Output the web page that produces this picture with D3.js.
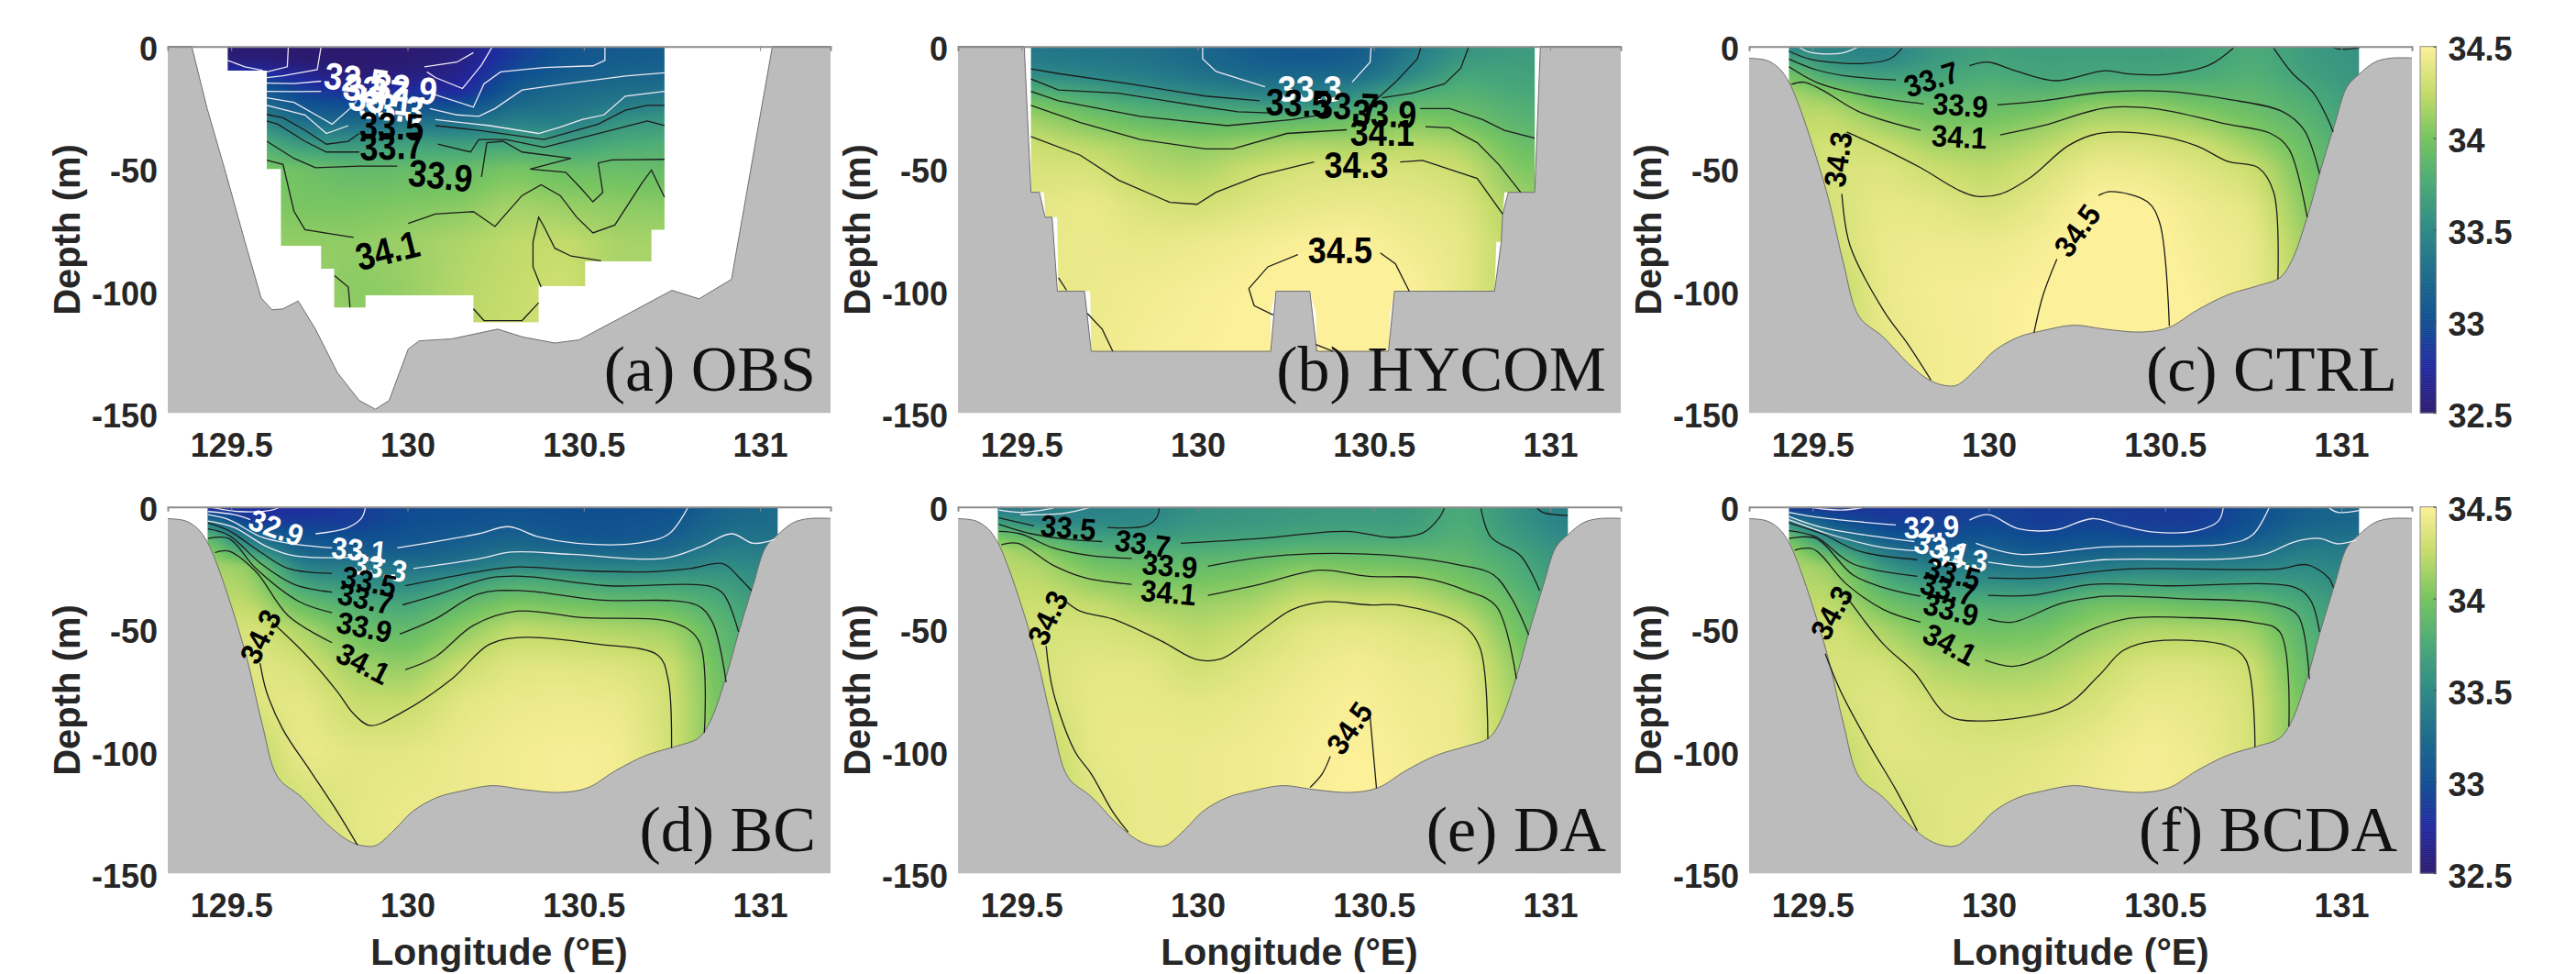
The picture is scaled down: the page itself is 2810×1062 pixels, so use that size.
<!DOCTYPE html>
<html>
<head>
<meta charset="utf-8">
<script src="https://cdn.jsdelivr.net/npm/d3@7"></script>
<style>
  body { margin: 0; background: #fff; }
  svg { display: block; }
</style>
</head>
<body>
<div id="wrapper"></div>
<script>
// salinity: columns are longitude, rows are depth (m)
const gridLons = [129.43, 129.55, 129.7, 129.85, 130, 130.15, 130.3, 130.45, 130.6, 130.75, 130.9, 131.05];
const gridDepths = [0, 6, 12, 18, 24, 30, 40, 50, 65, 80, 100, 125];

const obsField = [
  [32.5, 32.55, 32.9, 33.2, 33.35, 33.55, 33.85, 34.0, 34.05, 34.1, 34.1, 34.1],
  [32.5, 32.58, 32.9, 33.2, 33.35, 33.55, 33.85, 34.02, 34.05, 34.1, 34.1, 34.1],
  [32.5, 32.52, 32.7, 32.9, 33.05, 33.25, 33.6, 33.95, 34.0, 34.08, 34.15, 34.2],
  [32.5, 32.5, 32.55, 32.75, 33.0, 33.2, 33.6, 33.88, 34.0, 34.08, 34.05, 34.1],
  [32.5, 32.52, 32.6, 32.8, 33.0, 33.3, 33.68, 33.9, 34.03, 34.12, 34.1, 34.15],
  [32.55, 32.6, 32.65, 32.72, 33.0, 33.25, 33.65, 33.9, 34.05, 34.17, 34.2, 34.22],
  [32.85, 32.9, 33.02, 33.12, 33.25, 33.4, 33.7, 34.0, 34.15, 34.23, 34.25, 34.27],
  [33.05, 33.08, 33.13, 33.25, 33.3, 33.38, 33.65, 33.92, 34.1, 34.25, 34.3, 34.3],
  [33.1, 33.13, 33.2, 33.28, 33.38, 33.55, 33.75, 33.93, 34.07, 34.15, 34.15, 34.15],
  [33.12, 33.15, 33.2, 33.3, 33.45, 33.6, 33.78, 33.9, 34.05, 34.15, 34.15, 34.15],
  [33.12, 33.15, 33.2, 33.3, 33.45, 33.6, 33.78, 33.9, 34.05, 34.15, 34.15, 34.15],
  [33.12, 33.15, 33.2, 33.3, 33.45, 33.6, 33.78, 33.9, 34.05, 34.15, 34.15, 34.15]
];
const hycomField = [
  [33.35, 33.4, 33.55, 33.85, 34.1, 34.2, 34.33, 34.36, 34.38, 34.38, 34.38, 34.38],
  [33.35, 33.38, 33.52, 33.77, 33.99, 34.12, 34.27, 34.33, 34.38, 34.4, 34.4, 34.4],
  [33.32, 33.36, 33.45, 33.67, 33.84, 34.0, 34.2, 34.33, 34.42, 34.42, 34.42, 34.42],
  [33.3, 33.33, 33.4, 33.55, 33.75, 33.88, 34.13, 34.2, 34.33, 34.4, 34.45, 34.47],
  [33.22, 33.25, 33.32, 33.47, 33.7, 33.85, 34.06, 34.17, 34.3, 34.42, 34.47, 34.48],
  [33.12, 33.15, 33.24, 33.4, 33.65, 33.85, 34.12, 34.27, 34.36, 34.45, 34.5, 34.52],
  [33.08, 33.1, 33.22, 33.36, 33.55, 33.88, 34.17, 34.33, 34.4, 34.48, 34.55, 34.55],
  [33.1, 33.15, 33.25, 33.48, 33.7, 33.95, 34.15, 34.33, 34.42, 34.5, 34.57, 34.57],
  [33.35, 33.4, 33.5, 33.7, 33.88, 34.03, 34.22, 34.33, 34.4, 34.44, 34.5, 34.52],
  [33.55, 33.62, 33.72, 33.8, 33.88, 33.96, 34.16, 34.28, 34.36, 34.4, 34.4, 34.38],
  [33.62, 33.65, 33.68, 33.72, 33.78, 33.83, 33.94, 34.03, 34.15, 34.2, 34.2, 34.2],
  [33.6, 33.63, 33.66, 33.7, 33.73, 33.78, 33.85, 33.98, 34.1, 34.1, 34.1, 34.1]
];
const ctrlField = [
  [33.45, 33.75, 34.0, 34.15, 34.2, 34.22, 34.25, 34.25, 34.25, 34.22, 34.2, 34.2],
  [33.42, 33.55, 33.72, 34.0, 34.17, 34.25, 34.32, 34.33, 34.32, 34.3, 34.2, 34.2],
  [33.42, 33.49, 33.66, 33.81, 33.97, 34.1, 34.27, 34.36, 34.4, 34.42, 34.42, 34.4],
  [33.58, 33.62, 33.69, 33.78, 33.9, 33.98, 34.14, 34.27, 34.38, 34.43, 34.46, 34.45],
  [33.65, 33.7, 33.76, 33.83, 33.9, 33.98, 34.12, 34.22, 34.32, 34.42, 34.47, 34.47],
  [33.63, 33.66, 33.69, 33.8, 33.93, 34.06, 34.2, 34.32, 34.4, 34.46, 34.5, 34.52],
  [33.64, 33.67, 33.72, 33.88, 34.08, 34.18, 34.34, 34.43, 34.51, 34.53, 34.55, 34.55],
  [33.63, 33.66, 33.71, 33.89, 34.07, 34.17, 34.33, 34.42, 34.5, 34.53, 34.55, 34.55],
  [33.66, 33.68, 33.74, 33.85, 33.97, 34.1, 34.28, 34.36, 34.43, 34.45, 34.48, 34.5],
  [33.75, 33.77, 33.8, 33.85, 33.9, 33.97, 34.12, 34.28, 34.38, 34.42, 34.42, 34.42],
  [33.62, 33.64, 33.67, 33.73, 33.79, 33.84, 33.92, 33.97, 34.05, 34.12, 34.2, 34.2],
  [33.55, 33.57, 33.58, 33.6, 33.62, 33.65, 33.7, 33.75, 33.8, 33.85, 33.9, 33.9]
];
const bcField = [
  [32.7, 33.4, 33.9, 34.1, 34.15, 34.2, 34.22, 34.22, 34.22, 34.2, 34.2, 34.2],
  [32.75, 32.85, 33.3, 33.65, 34.1, 34.15, 34.25, 34.35, 34.38, 34.35, 34.2, 34.2],
  [32.75, 32.87, 33.02, 33.18, 33.4, 33.62, 33.92, 34.17, 34.33, 34.4, 34.42, 34.3],
  [32.85, 32.88, 33.0, 33.12, 33.38, 33.52, 33.78, 33.95, 34.13, 34.26, 34.37, 34.38],
  [32.98, 33.0, 33.05, 33.12, 33.28, 33.45, 33.7, 33.87, 34.08, 34.25, 34.38, 34.42],
  [33.0, 33.03, 33.1, 33.2, 33.32, 33.6, 33.88, 34.06, 34.27, 34.38, 34.42, 34.42],
  [33.02, 33.07, 33.18, 33.3, 33.49, 33.75, 34.03, 34.24, 34.37, 34.42, 34.45, 34.45],
  [33.0, 33.03, 33.07, 33.25, 33.45, 33.7, 33.98, 34.2, 34.37, 34.43, 34.47, 34.47],
  [33.0, 33.03, 33.06, 33.2, 33.42, 33.62, 33.94, 34.17, 34.35, 34.42, 34.46, 34.46],
  [33.02, 33.07, 33.13, 33.25, 33.42, 33.65, 33.9, 34.13, 34.28, 34.3, 34.3, 34.3],
  [33.2, 33.24, 33.3, 33.42, 33.52, 33.62, 33.75, 33.84, 33.9, 33.95, 33.95, 33.95],
  [33.25, 33.27, 33.3, 33.38, 33.45, 33.5, 33.55, 33.6, 33.65, 33.7, 33.7, 33.7]
];
const daField = [
  [33.3, 33.65, 34.0, 34.2, 34.22, 34.23, 34.25, 34.25, 34.25, 34.22, 34.2, 34.2],
  [33.4, 33.45, 33.8, 34.07, 34.18, 34.23, 34.29, 34.33, 34.33, 34.3, 34.2, 34.2],
  [33.42, 33.48, 33.65, 33.83, 33.98, 34.08, 34.25, 34.33, 34.38, 34.4, 34.4, 34.35],
  [33.45, 33.48, 33.62, 33.78, 33.92, 34.02, 34.15, 34.28, 34.38, 34.4, 34.42, 34.42],
  [33.55, 33.58, 33.65, 33.78, 33.9, 33.98, 34.12, 34.2, 34.29, 34.38, 34.42, 34.42],
  [33.58, 33.6, 33.67, 33.8, 33.93, 34.03, 34.16, 34.27, 34.36, 34.41, 34.44, 34.44],
  [33.6, 33.63, 33.7, 33.87, 34.03, 34.15, 34.29, 34.37, 34.42, 34.45, 34.47, 34.47],
  [33.62, 33.64, 33.72, 33.86, 33.99, 34.11, 34.3, 34.4, 34.46, 34.48, 34.5, 34.52],
  [33.6, 33.63, 33.7, 33.85, 33.97, 34.11, 34.28, 34.36, 34.42, 34.44, 34.46, 34.47],
  [33.75, 33.77, 33.8, 33.85, 33.9, 33.98, 34.15, 34.32, 34.4, 34.42, 34.42, 34.4],
  [33.55, 33.58, 33.62, 33.7, 33.76, 33.8, 33.91, 33.98, 34.1, 34.15, 34.2, 34.2],
  [33.4, 33.42, 33.48, 33.52, 33.56, 33.6, 33.65, 33.7, 33.75, 33.8, 33.85, 33.85]
];
const bcdaField = [
  [32.75, 33.5, 33.95, 34.15, 34.18, 34.2, 34.22, 34.22, 34.22, 34.2, 34.2, 34.2],
  [32.8, 33.05, 33.42, 33.78, 34.1, 34.17, 34.25, 34.32, 34.33, 34.3, 34.2, 34.2],
  [32.82, 32.88, 33.08, 33.37, 33.58, 33.76, 33.97, 34.16, 34.33, 34.38, 34.38, 34.3],
  [32.85, 32.89, 32.98, 33.14, 33.38, 33.55, 33.84, 33.99, 34.17, 34.3, 34.36, 34.36],
  [32.92, 32.95, 33.05, 33.17, 33.32, 33.51, 33.78, 33.94, 34.13, 34.26, 34.35, 34.38],
  [32.85, 32.88, 32.96, 33.08, 33.3, 33.47, 33.79, 33.97, 34.14, 34.27, 34.37, 34.4],
  [32.88, 32.92, 33.02, 33.14, 33.36, 33.6, 33.97, 34.1, 34.25, 34.33, 34.42, 34.45],
  [32.85, 32.87, 32.95, 33.2, 33.43, 33.62, 33.98, 34.18, 34.35, 34.42, 34.47, 34.47],
  [32.85, 32.88, 32.95, 33.2, 33.42, 33.58, 33.92, 34.17, 34.35, 34.4, 34.43, 34.45],
  [33.0, 33.02, 33.1, 33.25, 33.43, 33.62, 33.9, 34.13, 34.28, 34.32, 34.32, 34.32],
  [33.15, 33.18, 33.28, 33.4, 33.5, 33.58, 33.72, 33.8, 33.88, 33.95, 33.95, 33.95],
  [33.2, 33.22, 33.3, 33.37, 33.42, 33.48, 33.55, 33.6, 33.65, 33.7, 33.7, 33.7]
];

// sea floor, [lon, depth]
const bottomObs = [[129.32,0],[129.388,0],[129.431,25],[129.485,52],[129.539,80],[129.585,103],[129.616,107.8],[129.647,107.4],[129.69,104.2],[129.739,115.7],[129.801,133.5],[129.863,144.9],[129.909,148.5],[129.948,144.9],[130.002,123.9],[130.033,120.5],[130.125,119.7],[130.256,115.7],[130.326,118.9],[130.418,121.4],[130.487,120.1],[130.603,111.2],[130.75,99.8],[130.827,103.3],[130.919,95.3],[130.95,69.9],[130.996,31.8],[131.035,0],[131.2,0]];
const bottomHycom = [[129.32,0],[129.508,0],[129.527,59.7],[129.551,59.7],[129.567,69.9],[129.587,69.9],[129.602,100.2],[129.679,100.2],[129.698,124.8],[130.207,124.8],[130.222,100.2],[130.318,100.2],[130.338,124.8],[130.541,124.8],[130.558,100.2],[130.842,100.2],[130.861,80],[130.865,68.6],[130.881,59.7],[130.956,59.7],[130.972,0],[131.2,0]];
const bottomModel = [[129.32,4.8],[129.37,5.7],[129.405,8.9],[129.433,14.6],[129.458,22.9],[129.492,36.9],[129.545,62.3],[129.588,89],[129.632,110.6],[129.7,118.9],[129.771,129.7],[129.832,136.6],[129.876,138.8],[129.91,138.6],[129.963,132.2],[130.015,124.6],[130.085,118.9],[130.154,116.3],[130.241,114.1],[130.328,115.7],[130.433,116.9],[130.511,115],[130.59,108],[130.677,101.7],[130.764,97.9],[130.825,94.7],[130.859,87.7],[130.903,69.9],[130.938,52.1],[130.981,31.8],[131.016,16.5],[131.05,11.4],[131.095,6.4],[131.138,4.8],[131.2,4.7]];

// where each data set actually has values
const coverObs = [[129.49,0],[129.49,9.9],[129.601,9.9],[129.601,50.1],[129.641,50.1],[129.641,81.6],[129.755,81.6],[129.755,91],[129.792,91],[129.792,106.8],[129.881,106.8],[129.881,101.9],[130.187,101.9],[130.187,112.9],[130.372,112.9],[130.372,98.1],[130.504,98.1],[130.504,88],[130.692,88],[130.692,75],[130.729,75],[130.729,0]];
const coverHycom = [[129.527,0],[129.527,59.7],[129.564,59.7],[129.568,69.9],[129.601,69.9],[129.605,100.2],[129.695,100.2],[129.698,124.8],[130.207,124.8],[130.207,109],[130.221,100.2],[130.318,100.2],[130.335,109],[130.338,124.8],[130.541,124.8],[130.546,109],[130.558,100.2],[130.842,100.2],[130.847,80],[130.861,80],[130.865,68.6],[130.87,59.7],[130.956,59.7],[130.956,0]];
const coverModel = [[129.433,0],[131.05,0],[131.05,150],[129.433,150]];

// contour lines, [level, points], one entry per piece between the labels
const obsLines = [
  [32.5, [[129.662,0],[129.659,8.3],[129.601,10.4]]],
  [32.5, [[129.49,5.7],[129.539,8.3],[129.59,9.8]]],
  [32.5, [[129.755,0],[129.744,9.5],[129.647,12],[129.601,12.7]]],
  [32.7, [[129.601,15],[129.678,15.2],[129.755,14.2]]],
  [32.7, [[129.601,18.4],[129.678,18.5],[129.755,18.4]]],
  [32.7, [[130.187,2.5],[130.14,6.4],[130.048,8.3]]],
  [32.9, [[130.241,0],[130.21,7.6],[130.156,17.2],[130.079,12.7],[130.055,10.4]]],
  [32.9, [[129.601,21],[129.678,22.9],[129.755,29.2],[129.786,31.8],[129.847,24.1],[129.863,20.3]]],
  [33.1, [[130.56,0],[130.56,5.7],[130.526,7.9],[130.387,8.6],[130.264,10.4],[130.217,15.3],[130.187,24.8],[130.063,19]]],
  [33.1, [[129.601,24.1],[129.709,28],[129.77,35.6],[129.832,32.4]]],
  [33.3, [[130.729,10.8],[130.618,12.1],[130.449,15.3],[130.325,17.8],[130.248,25.4],[130.202,28.6],[130.14,28],[130.063,25.4]]],
  [33.3, [[130.729,18.4],[130.618,20.3],[130.557,28],[130.495,29.9],[130.433,33],[130.372,35.6],[130.233,32.4],[130.079,29.9]]],
  [33.5, [[129.601,27.8],[129.647,29.2],[129.709,34.3],[129.77,40],[129.832,38.8],[129.863,35.6]]],
  [33.5, [[130.079,32.4],[130.202,34.3],[130.387,38.1],[130.541,31.8],[130.618,26.1],[130.68,24.1],[130.729,24.1]]],
  [33.7, [[129.601,30.5],[129.632,31.8],[129.709,38.8],[129.77,43.2],[129.863,43.2]]],
  [33.7, [[130.086,40],[130.179,43.2],[130.202,38.1],[130.279,38.1],[130.387,41.3],[130.541,35.6],[130.68,30.5],[130.729,32.4]]],
  [33.9, [[129.601,38.8],[129.678,45.8],[129.739,49.6],[129.863,49],[129.971,49]]],
  [33.9, [[130.21,53.4],[130.225,39.4],[130.271,38.8],[130.325,43.2],[130.464,45.8],[130.348,50.2],[130.449,51.5],[130.495,58.5],[130.526,63.6],[130.554,59.7],[130.541,47.7],[130.58,46.4],[130.729,46.2]]],
  [34.1, [[129.601,46.5],[129.647,48.3],[129.678,67.4],[129.709,75],[129.847,78.2]]],
  [34.1, [[130.002,72.4],[130.079,68.6],[130.187,67.6],[130.248,73.7],[130.325,61],[130.379,56.6],[130.433,61],[130.48,69.9],[130.526,76.3],[130.588,73.1],[130.665,55.9],[130.692,50.6],[130.729,61.7]]],
  [34.3, [[130.549,87.7],[130.464,85.8],[130.418,82.6],[130.387,73.7],[130.372,69.9],[130.356,80],[130.356,90.2],[130.379,98.5]]],
  [34.3, [[129.793,93.8],[129.832,98.5],[129.837,106.8]]],
  [34.3, [[130.187,107.4],[130.217,112.2],[130.325,112.2],[130.372,104.9]]]
];
const hycomLines = [
  [33.3, [[130.014,0],[130.014,5.1],[130.052,10.2],[130.191,16.5]]],
  [33.3, [[130.492,0],[130.489,6.4],[130.438,14.6]]],
  [33.5, [[129.527,9.2],[129.605,11.1],[129.806,15.3],[130.022,20.3],[130.176,22.2]]],
  [33.5, [[130.507,21.6],[130.561,14.6],[130.623,5.1],[130.634,0]]],
  [33.7, [[129.527,13.3],[129.605,17.8],[129.775,19.1],[130.022,24.8],[130.114,26.7],[130.222,27.3]]],
  [33.7, [[130.523,21],[130.608,19.1],[130.7,15.3],[130.746,8.9],[130.769,0]]],
  [33.9, [[129.527,18.4],[129.605,22.2],[129.837,28.6],[130.083,32.4],[130.268,29.9],[130.376,27.3]]],
  [33.9, [[130.631,25.4],[130.715,25.4],[130.808,29.9],[130.87,34.3],[130.956,37.5]]],
  [34.1, [[129.527,24.1],[129.667,31.1],[129.837,38.1],[130.022,41.9],[130.099,41.9],[130.253,35.6],[130.423,34.1]]],
  [34.1, [[130.646,32.8],[130.715,33.3],[130.793,39.4],[130.854,48.3],[130.916,59.7]]],
  [34.3, [[129.527,36.9],[129.667,44.5],[129.775,54.7],[129.921,63.8],[129.998,64.6],[130.052,59.7],[130.176,52.7],[130.33,47.3]]],
  [34.3, [[130.574,47.3],[130.638,46.6],[130.793,54],[130.865,68.6]]],
  [34.3, [[129.605,94.7],[129.628,99.8]]],
  [34.3, [[129.687,109.3],[129.729,115.7],[129.759,124.8]]],
  [34.3, [[130.335,122],[130.384,124.8]]],
  [34.5, [[130.284,85.2],[130.199,90.2],[130.145,99.1],[130.16,106.1],[130.214,109.9]]],
  [34.5, [[130.518,84.5],[130.561,89],[130.6,100.2]]]
];
const ctrlLines = [
  [33.3, [[129.458,0],[129.492,2.3],[129.58,2.8],[129.632,0]]],
  [33.5, [[130.973,0],[130.99,1],[131.05,0.6]]],
  [33.5, [[129.433,1.9],[129.492,5.1],[129.632,7],[129.719,5.1],[129.754,0.6]]],
  [33.7, [[129.433,5.1],[129.51,9.5],[129.597,12.1],[129.736,13.7]]],
  [33.7, [[129.945,7.9],[129.998,6.4],[130.067,9.5],[130.189,14],[130.328,9.9],[130.398,11.2],[130.503,11.4],[130.625,7.6],[130.694,0.6]]],
  [33.7, [[130.808,0.6],[130.86,10.8],[130.921,19.1],[130.956,28],[130.977,35]]],
  [33.9, [[129.433,8.3],[129.51,14.6],[129.597,18.4],[129.701,21.3],[129.815,23.5]]],
  [33.9, [[130.024,23.9],[130.154,22.2],[130.328,18.7],[130.503,18.4],[130.677,21.6],[130.834,26.7],[130.895,34.3],[130.938,52.1]]],
  [34.1, [[129.44,15.5],[129.475,14.6],[129.527,17.8],[129.632,26.7],[129.806,34.3]]],
  [34.1, [[130.032,36.2],[130.154,32.4],[130.328,25.2],[130.468,25.4],[130.677,31.8],[130.799,35.6],[130.851,41.9],[130.903,69.9]]],
  [34.3, [[129.597,35],[129.701,41.9],[129.806,49.6],[129.91,58.5],[129.963,61.3],[130.032,60.4],[130.12,53.4],[130.224,40.7],[130.311,35.6],[130.468,36.2],[130.59,40.7],[130.677,47],[130.764,49.6],[130.808,59.7],[130.82,95.3]]],
  [34.3, [[129.583,60.4],[129.606,81.4],[129.701,108],[129.771,122],[129.836,136.6]]],
  [34.5, [[130.311,61],[130.346,59.4],[130.45,63.6],[130.485,72.4],[130.512,114.4]]],
  [34.5, [[130.193,87],[130.154,101.7],[130.128,117.2]]]
];
const bcLines = [
  [32.7, [[129.434,0],[129.524,1.9],[129.616,1.3],[129.639,0]]],
  [32.9, [[129.434,1.9],[129.508,3.2],[129.554,5.2]]],
  [32.9, [[129.739,11],[129.832,8.4],[129.87,4.5],[129.881,0]]],
  [33.1, [[129.434,3.2],[129.493,5.2],[129.585,12.3],[129.662,14.9],[129.786,16.8]]],
  [33.1, [[129.971,16.8],[130.079,14.2],[130.202,11],[130.287,8.1],[130.372,12.3],[130.48,14.9],[130.649,14.9],[130.742,11],[130.796,0]]],
  [33.3, [[129.434,5.8],[129.508,8.4],[129.6,16.2],[129.678,20],[129.847,20.7]]],
  [33.3, [[130.017,25.2],[130.202,21.3],[130.295,18.5],[130.464,19.4],[130.726,21.1],[130.834,16.2],[130.919,11],[130.981,14.9],[131.042,13.3]]],
  [33.5, [[129.434,6.5],[129.493,9.7],[129.585,18.7],[129.662,25.2],[129.786,27.2]]],
  [33.5, [[129.994,32.3],[130.202,26.5],[130.31,24.6],[130.51,26.2],[130.695,26.5],[130.803,25.2],[130.896,23.3],[130.942,29.1],[130.976,34.3]]],
  [33.7, [[129.434,9],[129.493,11.6],[129.585,23.3],[129.678,31.7],[129.786,34.9]]],
  [33.7, [[129.986,40.1],[130.079,36.2],[130.233,29.1],[130.325,28.4],[130.572,32.3],[130.85,32.3],[130.896,35.6],[130.939,51.1]]],
  [33.9, [[129.434,12.9],[129.493,12.9],[129.57,25.2],[129.693,38.8],[129.786,43.3]]],
  [33.9, [[129.978,52.1],[130.079,45.9],[130.202,35.6],[130.325,34.3],[130.541,38.1],[130.819,40.1],[130.865,47.2],[130.904,71.8]]],
  [34.1, [[129.454,18.7],[129.493,18.1],[129.57,26.5],[129.662,44.6],[129.786,55.6]]],
  [34.1, [[129.994,66.6],[130.079,61.4],[130.187,48.5],[130.31,42.7],[130.495,45.3],[130.757,47.5],[130.827,55],[130.842,92.5]]],
  [34.3, [[129.616,47.2],[129.709,60.1],[129.801,75.6],[129.847,84.7],[129.894,89.5],[129.986,84],[130.125,70.5],[130.233,56.2],[130.333,53.4],[130.541,56.2],[130.711,60.8],[130.739,70.5],[130.749,98.7]]],
  [34.3, [[129.582,64],[129.6,75.6],[129.647,91.2],[129.724,108],[129.801,124.8],[129.858,138.4]]]
];
const daLines = [
  [33.3, [[129.436,1.3],[129.497,2.2],[129.59,0.5]]],
  [33.3, [[129.497,3.2],[129.621,2.6],[129.693,0.3]]],
  [33.5, [[130.962,0.3],[130.978,2.2],[131.049,3.5]]],
  [33.5, [[129.436,4.5],[129.536,7.8]]],
  [33.5, [[129.744,8.4],[129.852,7.8],[129.883,4.5],[129.891,0.3]]],
  [33.7, [[129.436,7.1],[129.528,11],[129.636,13.3],[129.729,14.2]]],
  [33.7, [[129.952,14.9],[130.176,12.9],[130.423,10],[130.546,12.5],[130.638,10.7],[130.685,4.5],[130.7,0.3]]],
  [33.7, [[130.803,0.3],[130.831,12.3],[130.916,20],[130.97,34.3]]],
  [33.9, [[129.436,10],[129.497,11],[129.59,16.8],[129.698,20],[129.813,21.1]]],
  [33.9, [[130.029,24.3],[130.176,20.7],[130.33,19.1],[130.561,20],[130.746,23.9],[130.839,27.8],[130.893,38.1],[130.939,52.4]]],
  [34.1, [[129.443,15.5],[129.49,14.9],[129.59,23.9],[129.682,29.1],[129.813,31.7]]],
  [34.1, [[130.029,36.2],[130.176,31.7],[130.345,25.9],[130.484,28.4],[130.638,29.1],[130.762,34.3],[130.847,40.7],[130.904,70.5]]],
  [34.3, [[129.621,38.1],[129.667,42.7],[129.759,45.9],[129.898,55],[129.998,62.5],[130.068,62.1],[130.176,51.1],[130.268,42],[130.361,38.8],[130.484,40.1],[130.577,40.3],[130.746,47.8],[130.8,57.5],[130.823,95]]],
  [34.3, [[129.57,56.9],[129.59,75.6],[129.652,100.2],[129.698,109.3],[129.759,124.8],[129.803,133.2]]],
  [34.5, [[130.489,86],[130.507,115.1]]],
  [34.5, [[130.376,102.1],[130.353,109.3],[130.319,114.8]]]
];
const bcdaLines = [
  [32.7, [[129.501,0.3],[129.58,1.3],[129.641,0.3]]],
  [33.3, [[130.964,0.3],[130.99,2.2],[131.05,1.5]]],
  [32.9, [[129.433,2.2],[129.527,4.5],[129.736,7.4]]],
  [32.9, [[129.945,5.4],[129.998,3.2],[130.085,9],[130.189,9.4],[130.294,4.8],[130.381,7.8],[130.468,10.3],[130.59,9.7],[130.651,5.8],[130.665,0.3]]],
  [33.1, [[129.433,3.9],[129.527,8.4],[129.754,13.6],[129.789,14.2]]],
  [33.1, [[129.963,14.9],[130.085,19.4],[130.328,16.4],[130.677,15.1],[130.747,11.6],[130.795,0.3]]],
  [33.3, [[129.433,5.2],[129.545,11],[129.684,16.2],[129.806,18.1]]],
  [33.3, [[129.998,22.6],[130.137,24.6],[130.328,21.6],[130.677,21.3],[130.782,19.4],[130.869,14.2],[130.938,12.9],[130.99,15.1],[131.043,13.6]]],
  [33.5, [[129.433,6.5],[129.527,11],[129.632,18.1],[129.797,21.6]]],
  [33.5, [[129.998,29.1],[130.154,29.1],[130.381,25.5],[130.816,25.5],[130.903,23.7],[130.964,29.1],[130.977,33]]],
  [33.7, [[129.433,9.7],[129.51,12.3],[129.614,23.3],[129.797,28.4]]],
  [33.7, [[129.998,36.2],[130.12,36.2],[130.294,31.7],[130.503,32.3],[130.869,33],[130.912,38.1],[130.938,51.1]]],
  [33.9, [[129.433,12.9],[129.51,12.9],[129.614,27.8],[129.701,33],[129.806,36.6]]],
  [33.9, [[129.998,45.9],[130.067,47.2],[130.207,39.4],[130.328,36.6],[130.538,37.5],[130.816,40.1],[130.877,44.6],[130.909,70.5]]],
  [34.1, [[129.449,17.7],[129.501,17.2],[129.597,31.7],[129.701,42],[129.806,47.2]]],
  [34.1, [[129.989,62.7],[130.067,65.3],[130.154,61.4],[130.276,51.1],[130.398,45.6],[130.555,45.3],[130.747,47.2],[130.825,51.1],[130.851,89.9]]],
  [34.3, [[129.597,36.9],[129.701,56.2],[129.789,67.9],[129.876,84.7],[129.937,87.5],[130.207,82.1],[130.311,69.2],[130.381,58.8],[130.468,55],[130.677,56.9],[130.729,62.7],[130.755,98.3]]],
  [34.3, [[129.536,60.1],[129.58,75.6],[129.667,98.9],[129.736,115.7],[129.797,132.5]]]
];

// inline contour labels, [text, lon, depth, angle]
const obsLabels = [["32.5",129.855,13.3,8],["32.7",129.909,17.8,8],["32.9",129.994,17,6],["33.1",129.924,21.6,6],["33.3",129.955,24.8,6],["33.5",129.955,32.4,2],["33.7",129.955,40.6,-2],["33.9",130.094,52.7,6],["34.1",129.943,83.3,-14]];
const hycomLabels = [["33.3",130.318,17.2,0],["33.5",130.284,22.9,2],["33.7",130.423,24.2,2],["33.9",130.53,27.3,2],["34.1",130.523,35,0],["34.3",130.45,48.3,0],["34.5",130.404,83.2,0]];
const ctrlLabels = [["33.7",129.837,13.3,-18],["33.9",129.919,23.9,4],["34.1",129.916,36.9,3],["34.3",129.571,46.2,-82],["34.5",130.25,75.3,-54]];
const bcLabels = [["32.9",129.628,8.4,20],["33.1",129.863,17.5,5],["33.3",129.921,24.6,10],["33.5",129.891,30.4,12],["33.7",129.881,37.5,12],["33.9",129.878,49.1,12],["34.1",129.875,64,27],["34.3",129.582,53,-64]];
const daLabels = [["33.5",129.633,8.4,5],["33.7",129.844,14.9,8],["33.9",129.921,23.9,5],["34.1",129.917,34.9,5],["34.3",129.574,45.3,-65],["34.5",130.43,90.5,-55]];
const bcdaLabels = [["32.9",129.837,8.1,-2],["33.1",129.867,16.8,15],["33.3",129.919,20.7,8],["33.5",129.898,27.2,14],["33.7",129.884,33.6,14],["33.9",129.893,42,14],["34.1",129.89,56.2,28],["34.3",129.553,43.3,-62]];

const lonTicks = [129.5, 130, 130.5, 131];
const depthTicks = [0, 50, 100, 150];
const colorTicks = [32.5, 33, 33.5, 34, 34.5];
const colorStops = [32.5, 32.75, 33, 33.25, 33.5, 33.75, 34, 34.25, 34.5];
const colorHex = ["#2b1a6e", "#21299f", "#0f4e91", "#1c6a8a", "#2f8a86", "#4cab78", "#78c562", "#c6dc6c", "#fdf09a"];

const panels = [
  {name: "(a) OBS", field: obsField, bottom: bottomObs, cover: coverObs, lines: obsLines, labels: obsLabels, left: 183, top: 50.7, big: true},
  {name: "(b) HYCOM", field: hycomField, bottom: bottomHycom, cover: coverHycom, lines: hycomLines, labels: hycomLabels, left: 1045, top: 50.7, big: true},
  {name: "(c) CTRL", field: ctrlField, bottom: bottomModel, cover: coverModel, lines: ctrlLines, labels: ctrlLabels, left: 1908, top: 50.7, bar: true, smooth: true},
  {name: "(d) BC", field: bcField, bottom: bottomModel, cover: coverModel, lines: bcLines, labels: bcLabels, left: 183, top: 552.7, xlabel: true, smooth: true},
  {name: "(e) DA", field: daField, bottom: bottomModel, cover: coverModel, lines: daLines, labels: daLabels, left: 1045, top: 552.7, xlabel: true, smooth: true},
  {name: "(f) BCDA", field: bcdaField, bottom: bottomModel, cover: coverModel, lines: bcdaLines, labels: bcdaLabels, left: 1908, top: 552.7, xlabel: true, bar: true, smooth: true}
];

const dimensions = {width: 2810, height: 1062, panelWidth: 723, panelHeight: 399.5};
const sans = '"Liberation Sans", Arial, sans-serif';
const tickColor = "#262626";

const xScale = d3.scaleLinear().domain([129.32, 131.2]).range([0, dimensions.panelWidth]);
const yScale = d3.scaleLinear().domain([0, 150]).range([0, dimensions.panelHeight]);
const colorScale = d3.scaleLinear().domain(colorStops).range(colorHex).clamp(true);
const colIndex = d3.scaleLinear().domain(gridLons).range(d3.range(gridLons.length)).clamp(true);
const rowIndex = d3.scaleLinear().domain(gridDepths).range(d3.range(gridDepths.length)).clamp(true);

const wrapper = d3.select("#wrapper")
  .append("svg")
    .attr("width", dimensions.width)
    .attr("height", dimensions.height)
    .style("background", "#fff");
const defs = wrapper.append("defs");

const pointLine = d3.line().x(d => xScale(d[0])).y(d => yScale(d[1]));
const smoothLine = d3.line().x(d => xScale(d[0])).y(d => yScale(d[1])).curve(d3.curveCatmullRom.alpha(0.5));

// running mean along one direction, edges held
function smoothPass(src, w, h, dx, dy, radius) {
  const out = new Float32Array(w * h);
  for (let j = 0; j < h; j++) {
    for (let i = 0; i < w; i++) {
      let sum = 0;
      for (let k = -radius; k <= radius; k++) {
        const ii = Math.max(0, Math.min(w - 1, i + k * dx));
        const jj = Math.max(0, Math.min(h - 1, j + k * dy));
        sum += src[jj * w + ii];
      }
      out[j * w + i] = sum / (2 * radius + 1);
    }
  }
  return out;
}

// paint the table into a canvas, same idea as shading interp
function fieldImage(field) {
  const w = Math.round(dimensions.panelWidth), h = Math.round(dimensions.panelHeight);
  const nc = gridLons.length - 1, nr = gridDepths.length - 1;
  let vals = new Float32Array(w * h);
  for (let j = 0; j < h; j++) {
    const r = rowIndex(yScale.invert(j + 0.5));
    const r0 = Math.min(Math.floor(r), nr - 1), rf = r - r0;
    for (let i = 0; i < w; i++) {
      const c = colIndex(xScale.invert(i + 0.5));
      const c0 = Math.min(Math.floor(c), nc - 1), cf = c - c0;
      const top = field[c0][r0] * (1 - cf) + field[c0 + 1][r0] * cf;
      const low = field[c0][r0 + 1] * (1 - cf) + field[c0 + 1][r0 + 1] * cf;
      vals[j * w + i] = top * (1 - rf) + low * rf;
    }
  }
  // takes the facets off the bilinear fill
  vals = smoothPass(vals, w, h, 1, 0, 14);
  vals = smoothPass(vals, w, h, 1, 0, 10);
  vals = smoothPass(vals, w, h, 0, 1, 4);

  const canvas = document.createElement("canvas");
  canvas.width = w;
  canvas.height = h;
  const ctx = canvas.getContext("2d");
  const img = ctx.createImageData(w, h);
  for (let k = 0; k < w * h; k++) {
    const col = d3.rgb(colorScale(vals[k]));
    img.data[k * 4] = col.r;
    img.data[k * 4 + 1] = col.g;
    img.data[k * 4 + 2] = col.b;
    img.data[k * 4 + 3] = 255;
  }
  ctx.putImageData(img, 0, 0);
  return canvas.toDataURL();
}

panels.forEach((p, idx) => {
  const line = p.smooth ? smoothLine : pointLine;
  const bounds = wrapper.append("g")
    .attr("transform", `translate(${p.left}, ${p.top})`);

  defs.append("clipPath").attr("id", "cover" + idx)
    .append("path").attr("d", pointLine(p.cover) + "Z");

  bounds.append("image")
    .attr("href", fieldImage(p.field))
    .attr("width", dimensions.panelWidth)
    .attr("height", dimensions.panelHeight)
    .attr("preserveAspectRatio", "none")
    .attr("clip-path", `url(#cover${idx})`);

  // sea floor on top of the field
  bounds.append("path")
    .attr("d", line(p.bottom) + `L${dimensions.panelWidth},${dimensions.panelHeight}L0,${dimensions.panelHeight}Z`)
    .attr("fill", "#bcbcbc");
  bounds.append("path")
    .attr("d", line(p.bottom))
    .attr("fill", "none")
    .attr("stroke", "#6e6e6e")
    .attr("stroke-width", 1);

  bounds.selectAll(".iso")
    .data(p.lines)
    .join("path")
      .attr("class", "iso")
      .attr("d", d => line(d[1]))
      .attr("fill", "none")
      .attr("stroke", d => d[0] < 33.5 ? "#ece9f4" : "#1c1c1c")
      .attr("stroke-width", 1.3);

  // the figure was stretched a bit in height, labels are taller than wide
  const labelStretch = p.big ? 1.15 : 1.07;
  bounds.selectAll(".isolabel")
    .data(p.labels)
    .join("text")
      .attr("class", "isolabel")
      .attr("transform", d => `translate(${xScale(d[1])}, ${yScale(d[2])}) rotate(${d[3]}) scale(1, ${labelStretch})`)
      .attr("text-anchor", "middle")
      .attr("dy", "0.36em")
      .attr("font-family", sans)
      .attr("font-weight", "bold")
      .attr("font-size", p.big ? 36 : 31)
      .attr("fill", d => +d[0] < 33.5 ? "#fff" : "#000")
      .text(d => d[0]);

  // axes box, ticks point inward on top
  bounds.append("g")
    .call(d3.axisTop(xScale).tickValues(lonTicks).tickSize(-5).tickFormat(""))
    .call(g => g.select(".domain").attr("stroke", "#8c8c8c").attr("stroke-width", 2))
    .call(g => g.selectAll("line").attr("stroke", "#8c8c8c"));

  const xAxis = bounds.append("g")
    .attr("transform", `translate(0, ${dimensions.panelHeight})`)
    .call(d3.axisBottom(xScale).tickValues(lonTicks).tickSize(0).tickPadding(22).tickFormat(d3.format("")));
  xAxis.select(".domain").remove();

  const yAxis = bounds.append("g")
    .call(d3.axisLeft(yScale).tickValues(depthTicks).tickSize(0).tickPadding(11).tickFormat(d => d === 0 ? "0" : "-" + d));
  yAxis.select(".domain").remove();
  yAxis.selectAll("text").attr("dy", "0.42em");

  [xAxis, yAxis].forEach(g => g.selectAll("text")
    .attr("font-family", sans)
    .attr("font-weight", "bold")
    .attr("font-size", 36)
    .attr("fill", tickColor));

  bounds.append("text")
    .attr("transform", `translate(${-109 + 13}, ${dimensions.panelHeight / 2}) rotate(-90)`)
    .attr("text-anchor", "middle")
    .attr("font-family", sans)
    .attr("font-weight", "bold")
    .attr("font-size", 40)
    .attr("fill", tickColor)
    .text("Depth (m)");

  if (p.xlabel) {
    bounds.append("text")
      .attr("x", dimensions.panelWidth / 2)
      .attr("y", dimensions.panelHeight + 100)
      .attr("text-anchor", "middle")
      .attr("font-family", sans)
      .attr("font-weight", "bold")
      .attr("font-size", 41)
      .attr("fill", tickColor)
      .text("Longitude (°E)");
  }

  bounds.append("text")
    .attr("x", dimensions.panelWidth - 16)
    .attr("y", 375)
    .attr("text-anchor", "end")
    .attr("font-family", '"Liberation Serif", "Times New Roman", serif')
    .attr("font-size", 70)
    .attr("fill", "#111")
    .text(p.name);

  if (p.bar) {
    const barScale = d3.scaleLinear().domain([32.5, 34.5]).range([dimensions.panelHeight, 0]);
    const bar = bounds.append("g").attr("transform", `translate(${dimensions.panelWidth + 9}, 0)`);
    bar.selectAll("rect")
      .data(d3.range(32.5, 34.5, 0.01))
      .join("rect")
        .attr("y", d => barScale(d + 0.01))
        .attr("width", 17.5)
        .attr("height", d => barScale(d) - barScale(d + 0.01) + 0.5)
        .attr("fill", d => colorScale(d));
    bar.append("rect")
      .attr("width", 17.5)
      .attr("height", dimensions.panelHeight)
      .attr("fill", "none")
      .attr("stroke", "#8c8c8c");
    const barAxis = bar.append("g")
      .attr("transform", "translate(17.5, 0)")
      .call(d3.axisRight(barScale).tickValues(colorTicks).tickSize(-3).tickPadding(13).tickFormat(d3.format("")));
    barAxis.select(".domain").remove();
    barAxis.selectAll("line").attr("stroke", "#444");
    barAxis.selectAll("text")
      .attr("dy", "0.42em")
      .attr("font-family", sans)
      .attr("font-weight", "bold")
      .attr("font-size", 36)
      .attr("fill", tickColor);
  }
});
</script>
</body>
</html>
